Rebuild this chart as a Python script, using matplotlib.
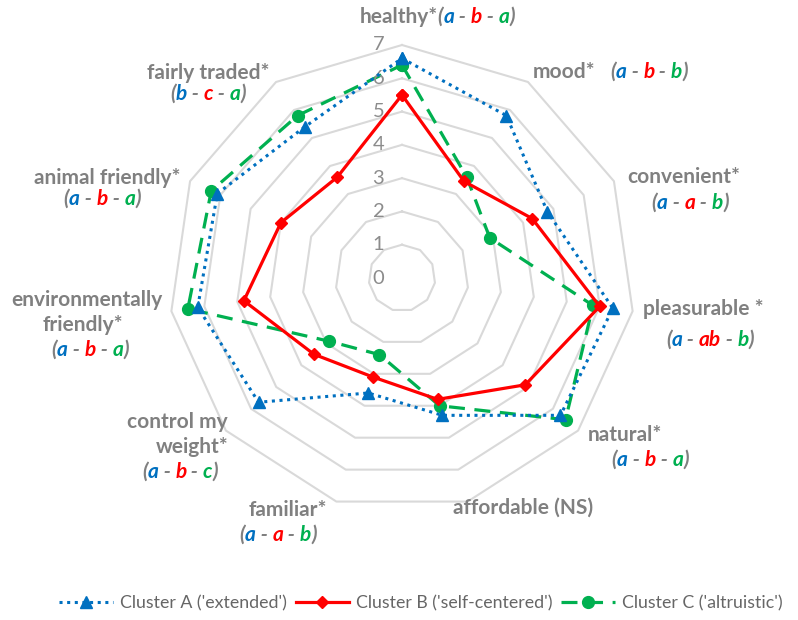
import matplotlib.pyplot as plt
import numpy as np

# attributes, clockwise from the top
attributes = ['healthy', 'mood', 'convenient', 'pleasurable', 'natural', 'affordable',
              'familiar', 'control my weight', 'environmentally friendly',
              'animal friendly', 'fairly traded']

cluster_a = [6.6, 5.8, 4.8, 6.4, 6.3, 4.3, 3.6, 5.7, 6.2, 6.1, 5.4]
cluster_b = [5.5, 3.45, 4.3, 6.0, 4.9, 3.8, 3.1, 3.5, 4.8, 4.0, 3.6]
cluster_c = [6.4, 3.6, 2.9, 5.8, 6.5, 4.0, 2.4, 2.9, 6.5, 6.3, 5.8]

series_names = ["Cluster A ('extended')", "Cluster B ('self-centered')", "Cluster C ('altruistic')"]

# significance letters per attribute (A, B, C)
letters = [('a', 'b', 'a'), ('a', 'b', 'b'), ('a', 'a', 'b'), ('a', 'ab', 'b'), ('a', 'b', 'a'),
           None, ('a', 'a', 'b'), ('a', 'b', 'c'), ('a', 'b', 'a'), ('a', 'b', 'a'), ('b', 'c', 'a')]

ring_values = [0, 1, 2, 3, 4, 5, 6, 7]

BLUE = '#0070C0'
RED = '#FF0000'
GREEN = '#00B050'
GRAY = '#808080'
FONT = 'Lato'

W, H = 798, 620
fig = plt.figure(figsize=(W / 100, H / 100), dpi=100)
cx, cy, R = 402, 278, 233
ax = fig.add_axes([(cx - R) / W, (H - cy - R) / H, 2 * R / W, 2 * R / H], projection='polar')
ax.set_theta_zero_location('N')
ax.set_theta_direction(-1)
ax.set_ylim(0, 7)
ax.grid(False)
ax.set_xticks([])
ax.set_yticks([])
ax.spines['polar'].set_visible(False)
ax.patch.set_visible(False)

n = len(attributes)
angles = np.linspace(0, 2 * np.pi, n, endpoint=False)
closed = np.append(angles, angles[0])

# polygon grid rings
for v in ring_values[1:]:
    ax.plot(closed, [v] * (n + 1), color='#D9D9D9', lw=1.5, zorder=1, clip_on=False)
for v in ring_values:
    ax.annotate(str(v), (0, v), xytext=(-17, 0), textcoords='offset points',
                ha='center', va='center', fontsize=14.5, color='#8C8C8C', family=FONT)

def close(vals):
    return list(vals) + [vals[0]]

ax.plot(closed, close(cluster_a), color=BLUE, ls=(0, (1, 1.5)), lw=2.2, marker='^', ms=8,
        label=series_names[0], zorder=3, clip_on=False)
ax.plot(closed, close(cluster_b), color=RED, ls='-', lw=2.3, marker='D', ms=6,
        label=series_names[1], zorder=4, clip_on=False)
ax.plot(closed, close(cluster_c), color=GREEN, ls=(0, (5, 3)), lw=2.3, marker='o', ms=8.5,
        label=series_names[2], zorder=2, clip_on=False)

renderer = fig.canvas.get_renderer()

def rich_line(pieces, x, y, size=15):
    """draw colored pieces as one line centered at pixel (x, y)"""
    texts = []
    for s, col, style in pieces:
        t = fig.text(0, 0, s, color=col, fontsize=size, fontweight='bold', style=style,
                     family=FONT, va='center', ha='left')
        texts.append(t)
    widths = [t.get_window_extent(renderer).width for t in texts]
    left = x - sum(widths) / 2
    for t, w in zip(texts, widths):
        t.set_position((left / W, 1 - y / H))
        left += w

def letter_pieces(lt):
    cols = [BLUE, RED, GREEN]
    out = [('(', GRAY, 'italic')]
    for i, (l, c) in enumerate(zip(lt, cols)):
        if i:
            out.append((' - ', GRAY, 'italic'))
        out.append((l, c, 'italic'))
    out.append((')', GRAY, 'italic'))
    return out

def name(s):
    return [(s, GRAY, 'normal')]

rich_line(name('healthy*') + letter_pieces(letters[0]), 437, 17)
rich_line(name('mood*') + [('   ', GRAY, 'normal')] + letter_pieces(letters[1]), 610, 72)
rich_line(name('convenient*'), 684, 177)
rich_line(letter_pieces(letters[2]), 690, 203)
rich_line(name('pleasurable *'), 703, 309)
rich_line(letter_pieces(letters[3]), 710, 340)
rich_line(name('natural*'), 625, 435)
rich_line(letter_pieces(letters[4]), 650, 460)
rich_line(name('affordable (NS)'), 523, 508)
rich_line(name('familiar*'), 288, 510)
rich_line(letter_pieces(letters[6]), 278, 535)
rich_line(name('control my'), 177, 422)
rich_line(name('weight*'), 192, 447)
rich_line(letter_pieces(letters[7]), 180, 472)
rich_line(name('environmentally'), 87, 300)
rich_line(name('friendly*'), 83, 325)
rich_line(letter_pieces(letters[8]), 90, 350)
rich_line(name('animal friendly*'), 107, 178)
rich_line(letter_pieces(letters[9]), 102, 199)
rich_line(name('fairly traded*'), 208, 73)
rich_line(letter_pieces(letters[10]), 208, 94)

leg = fig.legend(loc='center', bbox_to_anchor=(421 / W, 1 - 603 / H), ncol=3, frameon=False,
                 handlelength=3.0, columnspacing=0.5, handletextpad=0.4,
                 prop={'family': FONT, 'size': 12.8})
for t in leg.get_texts():
    t.set_color('#666666')

fig.savefig('out.png', dpi=100)
